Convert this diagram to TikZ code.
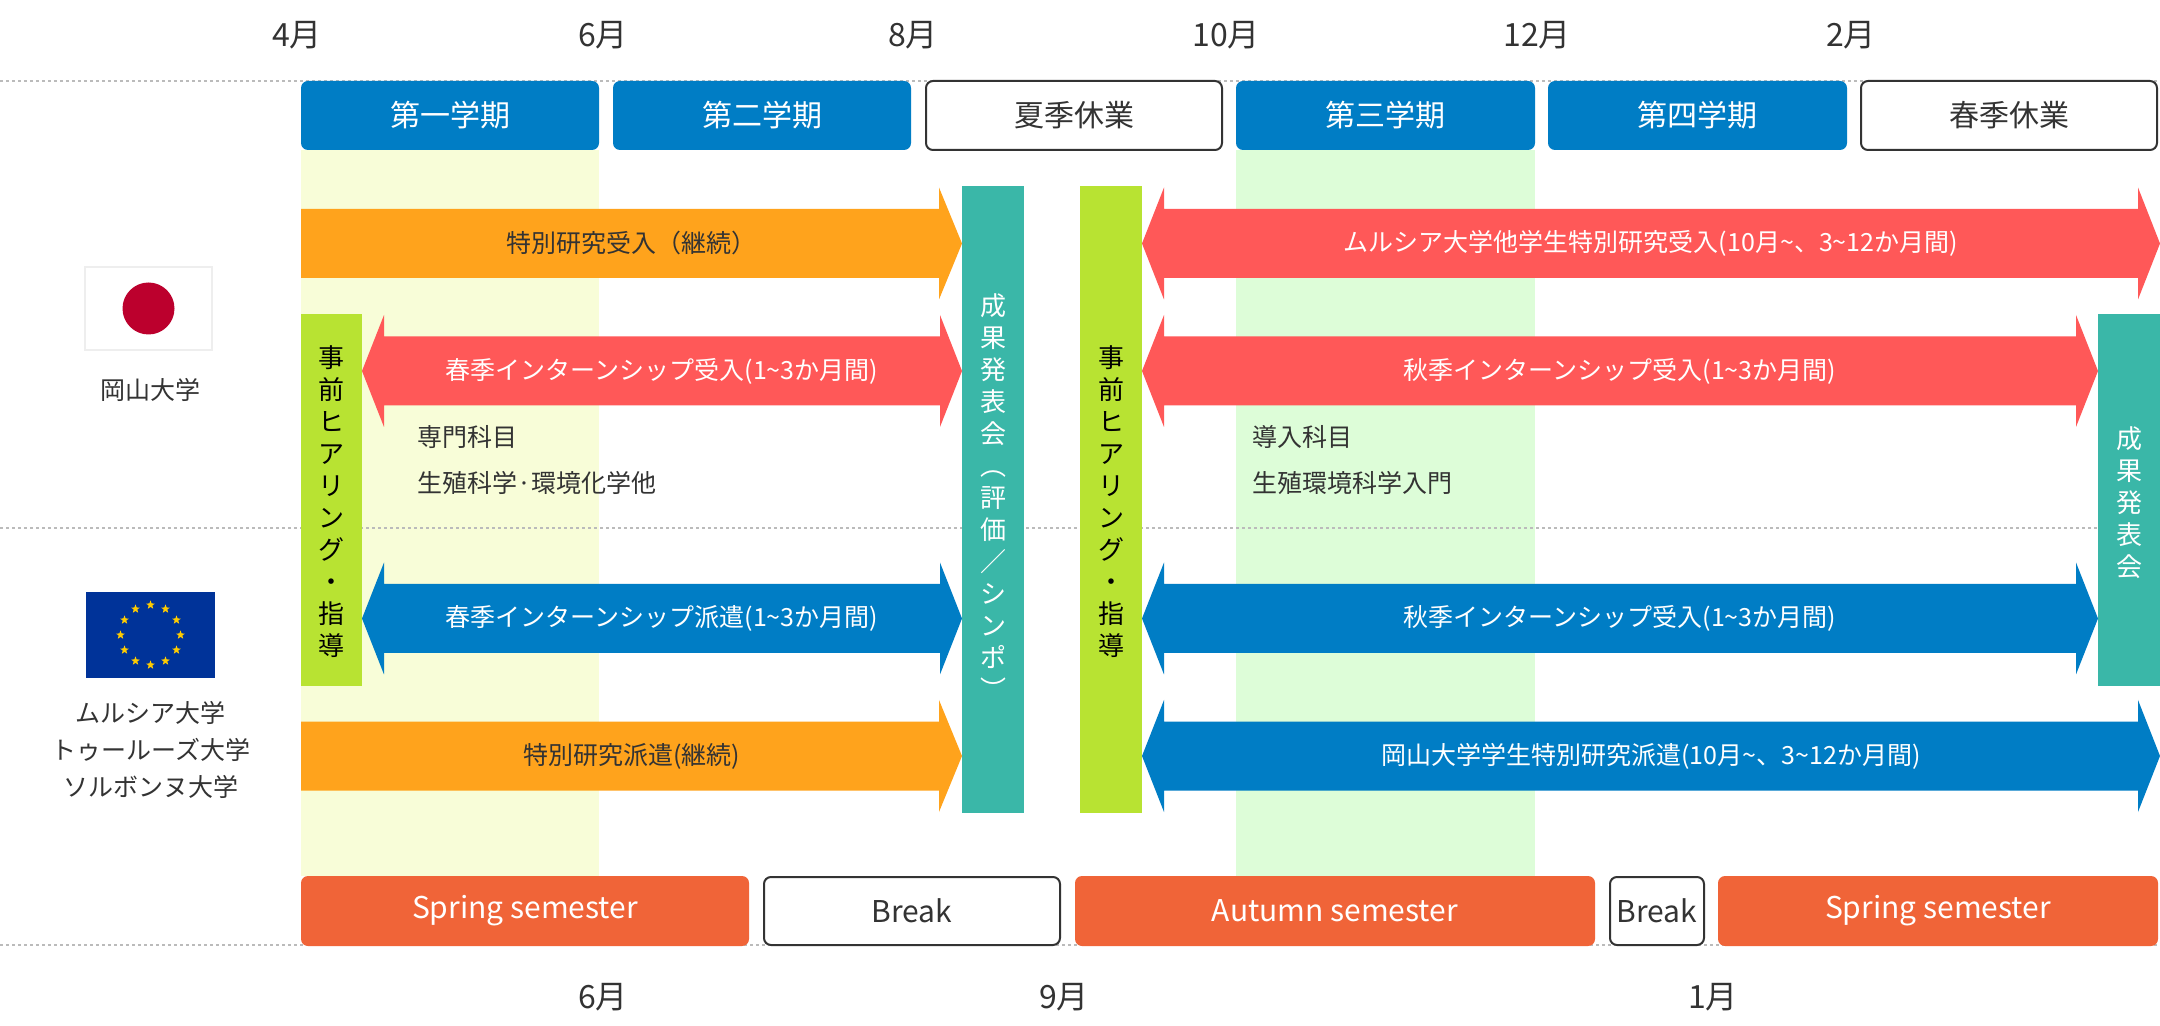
\documentclass[tikz,border=0pt]{standalone}
\usepackage{fontspec}
\setmainfont{Noto Sans CJK JP}
\usetikzlibrary{shapes.geometric}
\definecolor{qblue}{HTML}{007DC5}
\definecolor{qred}{HTML}{FF5858}
\definecolor{qorange}{HTML}{FFA31C}
\definecolor{qteal}{HTML}{3AB7A8}
\definecolor{qgreen}{HTML}{B8E332}
\definecolor{qsem}{HTML}{F06438}
\definecolor{bgyellow}{HTML}{F8FDD8}
\definecolor{bggreen}{HTML}{DDFDD8}
\definecolor{txtdark}{HTML}{333333}
\definecolor{dotgray}{HTML}{BBBBBB}
\definecolor{flagred}{HTML}{BC002D}
\definecolor{flagborder}{HTML}{EEEEEE}
\definecolor{eublue}{HTML}{003399}
\definecolor{euyellow}{HTML}{FFCC00}
\newcommand\dblarr[7]{%
  \fill[#5] (#2,#4) -- ++(22,-56) -- ++(0,21.5) -- ({#3-22},{#4-34.5}) -- ++(0,-21.5) -- (#3,#4)
    -- ({#3-22},{#4+56}) -- ++(0,-21.5) -- ({#2+22},{#4+34.5}) -- ++(0,21.5) -- cycle;
  \node[#6] (#1) at ({(#2+#3)/2},#4) {#7};}
\newcommand\sglarr[7]{%
  \fill[#5] (#2,{#4-34.5}) -- ({#3-23},{#4-34.5}) -- ++(0,-21.5) -- (#3,#4)
    -- ({#3-23},{#4+56}) -- ++(0,-21.5) -- (#2,{#4+34.5}) -- cycle;
  \node[#6] (#1) at ({(#2+#3)/2},#4) {#7};}
\begin{document}
\begin{tikzpicture}[x=0.5pt,y=-0.5pt,
  month/.style={text=txtdark,font=\fontsize{16pt}{19pt}\selectfont},
  hdr/.style={rounded corners=3.5pt,inner sep=0pt,minimum height=34.5pt,font=\fontsize{15pt}{18pt}\selectfont},
  hdrblue/.style={hdr,fill=qblue,text=white},
  hdrwhite/.style={hdr,draw=txtdark,line width=1pt,fill=white,text=txtdark},
  hdrsem/.style={hdr,fill=qsem,text=white},
  dotline/.style={draw=dotgray,line width=0.7pt,dash pattern=on 1.6pt off 1.4pt},
  arrwhite/.style={text=white,font=\fontsize{12.5pt}{15pt}\selectfont,inner sep=0pt},
  arrdark/.style={text=txtdark,font=\fontsize{12.5pt}{15pt}\selectfont,inner sep=0pt},
  note/.style={text=txtdark,font=\fontsize{12.5pt}{15pt}\selectfont,inner sep=0pt,anchor=west},
  uni/.style={text=txtdark,font=\fontsize{12.5pt}{18.5pt}\selectfont,align=center,inner sep=0pt},
  vtext/.style={align=center,inner sep=0pt,font=\fontsize{13pt}{16pt}\selectfont},
  eustar/.style={star,star points=5,star point ratio=2.4,fill=euyellow,inner sep=0pt,minimum size=4.6pt}
]
\useasboundingbox (0,0) rectangle (2160,1026);
\fill[white] (0,0) rectangle (2160,1026);
% background bands
\fill[bgyellow] (301,150) rectangle (599,876);
\fill[bggreen] (1236,150) rectangle (1535,876);
% dotted guide lines
\draw[dotline] (0,81) -- (2160,81);
\draw[dotline] (0,528) -- (2160,528);
\draw[dotline] (0,945) -- (2160,945);
% month labels
\node[month] (m4) at (297,35) {4月};
\node[month] (m6) at (603,35) {6月};
\node[month] (m8) at (913,35) {8月};
\node[month] (m10) at (1226,35) {10月};
\node[month] (m12) at (1537,35) {12月};
\node[month] (m2) at (1851,35) {2月};
\node[month] (b6) at (603,997) {6月};
\node[month] (b9) at (1064,997) {9月};
\node[month] (b1) at (1713,997) {1月};
% header boxes
\node[hdrblue,minimum width=149pt] (hq1) at (450,115.5) {第一学期};
\node[hdrblue,minimum width=149pt] (hq2) at (762,115.5) {第二学期};
\node[hdrwhite,minimum width=148pt] (hsum) at (1074,115.5) {夏季休業};
\node[hdrblue,minimum width=149.5pt] (hq3) at (1385.5,115.5) {第三学期};
\node[hdrblue,minimum width=149.5pt] (hq4) at (1697.5,115.5) {第四学期};
\node[hdrwhite,minimum width=148pt] (hspr) at (2009,115.5) {春季休業};
% bottom boxes
\node[hdrsem,minimum width=224pt,minimum height=35pt] (bs1) at (525,911) {Spring semester};
\node[hdrwhite,minimum width=148pt,minimum height=34pt] (bb1) at (912,911) {Break};
\node[hdrsem,minimum width=260pt,minimum height=35pt] (bau) at (1335,911) {Autumn semester};
\node[hdrwhite,minimum width=47pt,minimum height=34pt] (bb2) at (1657,911) {Break};
\node[hdrsem,minimum width=220pt,minimum height=35pt] (bs2) at (1938,911) {Spring semester};
% vertical bars
\fill[qteal] (962,186) rectangle (1024,813);
\node[vtext,text=white] (teal1) at (993,497) {成\\果\\発\\表\\会\\︵\\評\\価\\／\\シ\\ン\\ポ\\︶};
\fill[qgreen] (301,314) rectangle (362,686);
\node[vtext,text=black] (green1) at (331.5,502) {事\\前\\ヒ\\ア\\リ\\ン\\グ\\・\\指\\導};
\fill[qgreen] (1080,186) rectangle (1142,813);
\node[vtext,text=black] (green2) at (1111,502) {事\\前\\ヒ\\ア\\リ\\ン\\グ\\・\\指\\導};
\fill[qteal] (2098,314) rectangle (2160,686);
\node[vtext,text=white] (teal2) at (2129,503) {成\\果\\発\\表\\会};
% arrows row 1
\sglarr{a1l}{301}{962}{243.5}{qorange}{arrdark}{特別研究受入（継続）}
\dblarr{a1r}{1142}{2160}{243.5}{qred}{arrwhite}{ムルシア大学他学生特別研究受入(10月\textasciitilde、3\textasciitilde 12か月間)}
% row 2
\dblarr{a2l}{362}{962}{371}{qred}{arrwhite}{春季インターンシップ受入(1\textasciitilde 3か月間)}
\dblarr{a2r}{1142}{2098}{371}{qred}{arrwhite}{秋季インターンシップ受入(1\textasciitilde 3か月間)}
% row 3
\dblarr{a3l}{362}{962}{618.5}{qblue}{arrwhite}{春季インターンシップ派遣(1\textasciitilde 3か月間)}
\dblarr{a3r}{1142}{2098}{618.5}{qblue}{arrwhite}{秋季インターンシップ受入(1\textasciitilde 3か月間)}
% row 4
\sglarr{a4l}{301}{962}{756}{qorange}{arrdark}{特別研究派遣(継続)}
\dblarr{a4r}{1142}{2160}{756}{qblue}{arrwhite}{岡山大学学生特別研究派遣(10月\textasciitilde、3\textasciitilde 12か月間)}
% notes
\node[note] (n1) at (417,437) {専門科目};
\node[note] (n2) at (417,483) {生殖科学·環境化学他};
\node[note] (n3) at (1252,437) {導入科目};
\node[note] (n4) at (1252,483) {生殖環境科学入門};
% flags and university labels
\node[draw=flagborder,line width=1pt,fill=white,minimum width=63.5pt,minimum height=41.5pt,inner sep=0pt] (jpflag) at (148.5,308.5) {};
\node[circle,fill=flagred,minimum size=26pt,inner sep=0pt] (jpsun) at (148.5,308.5) {};
\node[uni] (okayama) at (150,390) {岡山大学};
\node[fill=eublue,minimum width=64.5pt,minimum height=43pt,inner sep=0pt] (euflag) at (150.5,635) {};
\foreach \i in {0,...,11}
  \node[eustar] (star\i) at ({150.5+30*cos(\i*30)},{635+30*sin(\i*30)}) {};
\node[uni] (euunis) at (151,750) {ムルシア大学\\トゥールーズ大学\\ソルボンヌ大学};
\end{tikzpicture}
\end{document}
